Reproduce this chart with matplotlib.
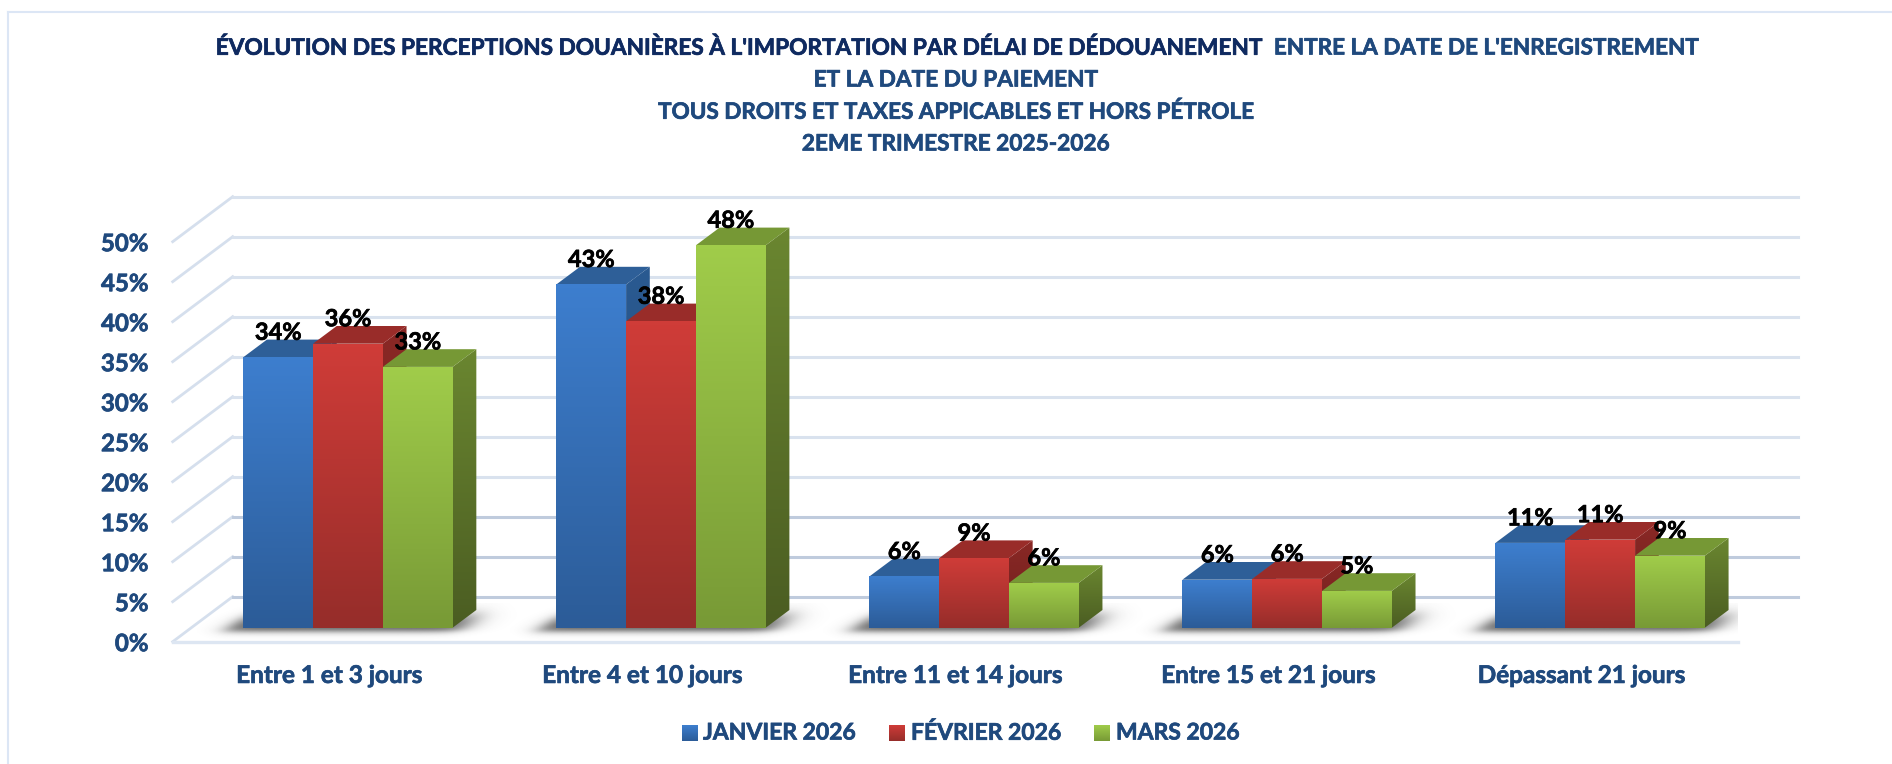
import numpy as np
import matplotlib
matplotlib.use('Agg')
import matplotlib.pyplot as plt
import matplotlib.patheffects as pe
from matplotlib.colors import LinearSegmentedColormap
from matplotlib.patches import Polygon

plt.rcParams['font.family'] = ['Lato', 'DejaVu Sans']
plt.rcParams['font.weight'] = 'bold'

categories = ['Entre 1 et 3 jours', 'Entre 4 et 10 jours', 'Entre 11 et 14 jours',
              'Entre 15 et 21 jours', 'Dépassant 21 jours']
series_names = ['JANVIER 2026', 'FÉVRIER 2026', 'MARS 2026']
janvier = [33.8, 42.9, 6.4, 6.0, 10.6]
fevrier = [35.5, 38.3, 8.7, 6.1, 11.0]
mars = [32.6, 47.8, 5.6, 4.6, 9.0]
labels_janvier = ['34%', '43%', '6%', '6%', '11%']
labels_fevrier = ['36%', '38%', '9%', '6%', '11%']
labels_mars = ['33%', '48%', '6%', '5%', '9%']
yticks = [0, 5, 10, 15, 20, 25, 30, 35, 40, 45, 50]

W, H = 1892, 764
NAVY = '#1F497D'
DARK = '#0F2A60'
thick = [pe.withStroke(linewidth=0.5, foreground=NAVY)]
thick_dark = [pe.withStroke(linewidth=0.5, foreground=DARK)]
thick_black = [pe.withStroke(linewidth=0.5, foreground='black')]

# couleurs : haut, bas, dessus, cote haut, cote bas
colors = [('#3D7ECE', '#2C5C98', '#2E5F98', '#2A5A91', '#234B7A'),
          ('#CF3C38', '#962D2A', '#992C29', '#8A2825', '#6E201E'),
          ('#A0CC4A', '#789A36', '#769835', '#6A8630', '#4B5D22')]

fig = plt.figure(figsize=(W / 100, H / 100), dpi=100)
x_left, x_right, y_floor = 172.7, 1738.0, 641.7
px_y = 8.0  # pixels par point de pourcentage
y_top = 58
ax = fig.add_axes([x_left / W, (H - y_floor) / H, (x_right - x_left) / W, y_top * px_y / H])
ax.patch.set_alpha(0)
for s in ax.spines.values():
    s.set_visible(False)

ux = 5 / (x_right - x_left)  # unites x par pixel
uy = 1 / px_y

wall_dx, wall_dy = 60 * ux, 45 * uy
front_dx, front_dy = 18.7 * ux, 14 * uy
bar_dx, bar_dy = 23.7 * ux, 17.7 * uy
bar_w = 69.8 * ux


def vgrad(ax, x0, x1, y0, y1, top, bottom, z, clip=None):
    cmap = LinearSegmentedColormap.from_list('g', [bottom, top])
    im = ax.imshow(np.linspace(1, 0, 64).reshape(-1, 1), cmap=cmap, extent=[x0, x1, y0, y1],
                   aspect='auto', zorder=z, interpolation='bilinear', vmin=0, vmax=1)
    if clip is not None:
        im.set_clip_path(clip)
    return im


# quadrillage
for v in yticks:
    c = '#D9E2EE' if v > 10 else '#BFCBDD'
    if v == 0:
        ax.plot([0, 5], [0, 0], color='#DDE6F2', lw=2.4, zorder=2, clip_on=False)
    ax.plot([0, wall_dx], [v, v + wall_dy], color='#D5DFED', lw=2.0, zorder=1, clip_on=False)
    ax.plot([wall_dx, 5 + wall_dx], [v + wall_dy, v + wall_dy], color=c, lw=2.2, zorder=1, clip_on=False)

# barres
all_vals = [janvier, fevrier, mars]
all_labels = [labels_janvier, labels_fevrier, labels_mars]
for i in range(len(categories)):
    left = i + 0.5 + front_dx - 1.5 * bar_w
    right = left + 3 * bar_w

    # ombre au sol
    xs = np.linspace(left - 70 * ux, right + 90 * ux, 300)
    ys = np.linspace(0.2, front_dy + 24 * uy, 80)
    gx, gy = np.meshgrid(xs, ys)
    hpx = (gy - front_dy) / uy
    u = (gx - left) / ux - hpx * 1.3
    wpx = (right - left) / ux
    a = 1 / (1 + np.exp(-(u + 14) / 6)) * 1 / (1 + np.exp((u - wpx - 12) / 8))
    a = a * 1 / (1 + np.exp(-(hpx + 4) / 1.8)) * 1 / (1 + np.exp((hpx - 12) / 3.5))
    rgba = np.zeros(gx.shape + (4,))
    rgba[..., :3] = 0.2
    rgba[..., 3] = a * 0.8
    ax.imshow(rgba, extent=[xs[0], xs[-1], ys[0], ys[-1]], origin='lower', aspect='auto', zorder=3,
              interpolation='bilinear')

    for j, vals in enumerate(all_vals):
        x0 = left + j * bar_w
        x1 = x0 + bar_w
        y0 = front_dy
        y1 = front_dy + vals[i]
        z = 4 + j * 0.1
        top, bottom, lid, side_t, side_b = colors[j]
        # cote
        side = Polygon([(x1, y0), (x1 + bar_dx, y0 + bar_dy), (x1 + bar_dx, y1 + bar_dy), (x1, y1)],
                       transform=ax.transData, facecolor='none', edgecolor='none')
        ax.add_patch(side)
        vgrad(ax, x1, x1 + bar_dx, y0, y1 + bar_dy, side_t, side_b, z, clip=side)
        # dessus
        ax.add_patch(Polygon([(x0, y1), (x0 + bar_dx, y1 + bar_dy), (x1 + bar_dx, y1 + bar_dy), (x1, y1)],
                             facecolor=lid, edgecolor='none', zorder=z))
        # face
        vgrad(ax, x0, x1, y0, y1, top, bottom, z + 0.01)
        ax.text((x0 + x1) / 2, y1 + 25 * uy, all_labels[j][i], ha='center', va='center',
                fontsize=17, color='black', zorder=10, clip_on=False, path_effects=thick_black)

ax.set_xlim(0, 5)
ax.set_ylim(0, y_top)
ax.set_xticks(np.arange(5) + 0.5)
ax.set_xticklabels(categories, fontsize=17.5, color=NAVY, path_effects=thick)
ax.set_yticks(yticks)
ax.set_yticklabels([f'{v}%' for v in yticks], fontsize=17.3, color=NAVY, path_effects=thick)
ax.tick_params(axis='x', length=0, pad=16)
ax.tick_params(axis='y', length=0, pad=17.5)


def ftext(x, y, s, **kw):
    fig.text(x / W, 1 - y / H, s, va='center', **kw)


# titre
ftext(215.7, 48, "ÉVOLUTION DES PERCEPTIONS DOUANIÈRES À L'IMPORTATION PAR DÉLAI DE DÉDOUANEMENT",
      ha='left', fontsize=16.3, color=DARK, path_effects=thick_dark)
ftext(1698, 48, "ENTRE LA DATE DE L'ENREGISTREMENT", ha='right', fontsize=16.2, color=NAVY, path_effects=thick)
ftext(956, 80, 'ET LA DATE DU PAIEMENT', ha='center', fontsize=16.3, color=NAVY, path_effects=thick)
ftext(956, 112, 'TOUS DROITS ET TAXES APPICABLES ET HORS PÉTROLE', ha='center', fontsize=16.2,
      color=NAVY, path_effects=thick)
ftext(956, 144, '2EME TRIMESTRE 2025-2026', ha='center', fontsize=16.3, color=NAVY, path_effects=thick)

# legende
leg_sq = [682, 889, 1094]
leg_txt = [703, 911, 1116]
for j, name in enumerate(series_names):
    lax = fig.add_axes([leg_sq[j] / W, (H - 741) / H, 16 / W, 16 / H])
    lax.axis('off')
    vgrad(lax, 0, 1, 0, 1, colors[j][0], colors[j][1], 1)
    ftext(leg_txt[j], 733, name, ha='left', fontsize=16.5, color=NAVY, path_effects=thick)

# cadre
fig.add_artist(plt.Line2D([8 / W, 1], [1 - 12 / H, 1 - 12 / H], color='#DCE6F5', lw=1.5))
fig.add_artist(plt.Line2D([8 / W, 8 / W], [0, 1 - 12 / H], color='#DCE6F5', lw=1.5))

fig.savefig('out.png', dpi=100)
